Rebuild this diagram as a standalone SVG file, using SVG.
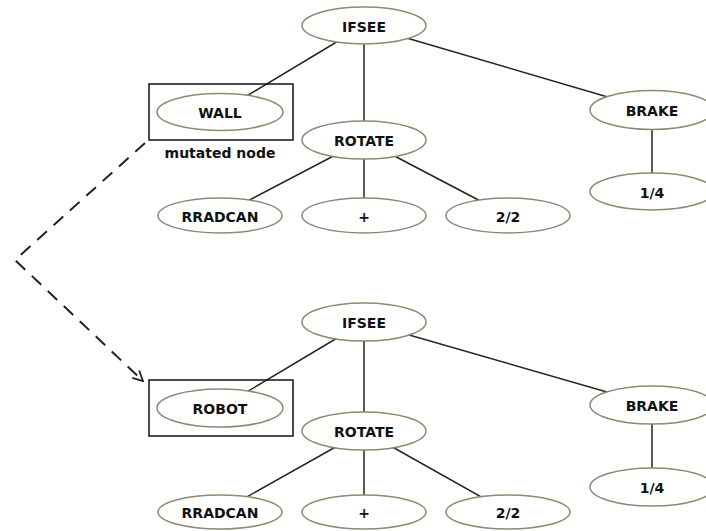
<svg xmlns="http://www.w3.org/2000/svg" width="706" height="531" viewBox="0 0 706 531">
<defs>
<style>
.n ellipse{fill:#fff;stroke:#8b8b70;stroke-width:1.5}
.n text{font-family:"DejaVu Sans",Verdana,sans-serif;font-weight:bold;font-size:14px;fill:#111;text-anchor:middle;dominant-baseline:central}
.e line{stroke:#222;stroke-width:1.5}
.box{fill:none;stroke:#111;stroke-width:1.5}
.lbl{font-family:"DejaVu Sans",Verdana,sans-serif;font-weight:bold;font-size:14px;fill:#111;text-anchor:middle}
.dash{fill:none;stroke:#222;stroke-width:2;stroke-dasharray:13 9}
</style>
<marker id="arr" viewBox="0 0 12 12" refX="11" refY="6" markerWidth="12" markerHeight="12" markerUnits="userSpaceOnUse" orient="auto">
<path d="M1,1 L11,6 L1,11" fill="none" stroke="#222" stroke-width="1.8"/>
</marker>
</defs>
<rect width="706" height="531" fill="#fff"/>
<g id="connectors" class="e">
<line x1="364" y1="25.5" x2="220" y2="112"/>
<line x1="364" y1="25.5" x2="364" y2="140"/>
<line x1="364" y1="25.5" x2="652" y2="110"/>
<line x1="652" y1="110" x2="652" y2="191.5"/>
<line x1="364" y1="140" x2="220" y2="215.5"/>
<line x1="364" y1="140" x2="364" y2="215.5"/>
<line x1="364" y1="140" x2="508" y2="215.5"/>
<line x1="364" y1="322" x2="220" y2="408"/>
<line x1="364" y1="322" x2="364" y2="431"/>
<line x1="364" y1="322" x2="652" y2="405"/>
<line x1="652" y1="405" x2="652" y2="487"/>
<line x1="364" y1="431" x2="220" y2="512"/>
<line x1="364" y1="431" x2="364" y2="512"/>
<line x1="364" y1="431" x2="508" y2="512"/>
<path class="dash" d="M145,143 L15,260 L143,381" marker-end="url(#arr)"/>
</g>
<rect id="box-wall" class="box" x="149" y="84" width="144" height="56"/>
<text id="label-mutated" class="lbl" x="220" y="158">mutated node</text>
<rect id="box-robot" class="box" x="149" y="380" width="144" height="56"/>
<g id="t1-ifsee" class="n"><ellipse cx="364" cy="25.5" rx="62" ry="18.5"/><text x="364" y="26.5">IFSEE</text></g>
<g id="t1-wall" class="n"><ellipse cx="220" cy="112" rx="63" ry="18.5"/><text x="220" y="113">WALL</text></g>
<g id="t1-rotate" class="n"><ellipse cx="364" cy="140" rx="62" ry="19"/><text x="364" y="141">ROTATE</text></g>
<g id="t1-brake" class="n"><ellipse cx="652" cy="110" rx="62" ry="19.5"/><text x="652" y="111">BRAKE</text></g>
<g id="t1-quarter" class="n"><ellipse cx="652" cy="191.5" rx="62" ry="18.5"/><text x="652" y="192.5">1/4</text></g>
<g id="t1-rradcan" class="n"><ellipse cx="220" cy="215.5" rx="62" ry="17.5"/><text x="220" y="216.5">RRADCAN</text></g>
<g id="t1-plus" class="n"><ellipse cx="364" cy="215.5" rx="62" ry="17.5"/><text x="364" y="216.5">+</text></g>
<g id="t1-half" class="n"><ellipse cx="508" cy="215.5" rx="62" ry="17.5"/><text x="508" y="216.5">2/2</text></g>
<g id="t2-ifsee" class="n"><ellipse cx="364" cy="322" rx="62" ry="19"/><text x="364" y="323">IFSEE</text></g>
<g id="t2-robot" class="n"><ellipse cx="220" cy="408" rx="63" ry="19"/><text x="220" y="409">ROBOT</text></g>
<g id="t2-rotate" class="n"><ellipse cx="364" cy="431" rx="62" ry="19"/><text x="364" y="432">ROTATE</text></g>
<g id="t2-brake" class="n"><ellipse cx="652" cy="405" rx="62" ry="19"/><text x="652" y="406">BRAKE</text></g>
<g id="t2-quarter" class="n"><ellipse cx="652" cy="487" rx="62" ry="19"/><text x="652" y="488">1/4</text></g>
<g id="t2-rradcan" class="n"><ellipse cx="220" cy="512" rx="62" ry="17"/><text x="220" y="513">RRADCAN</text></g>
<g id="t2-plus" class="n"><ellipse cx="364" cy="512" rx="62" ry="17"/><text x="364" y="513">+</text></g>
<g id="t2-half" class="n"><ellipse cx="508" cy="512" rx="62" ry="17"/><text x="508" y="513">2/2</text></g>
</svg>
